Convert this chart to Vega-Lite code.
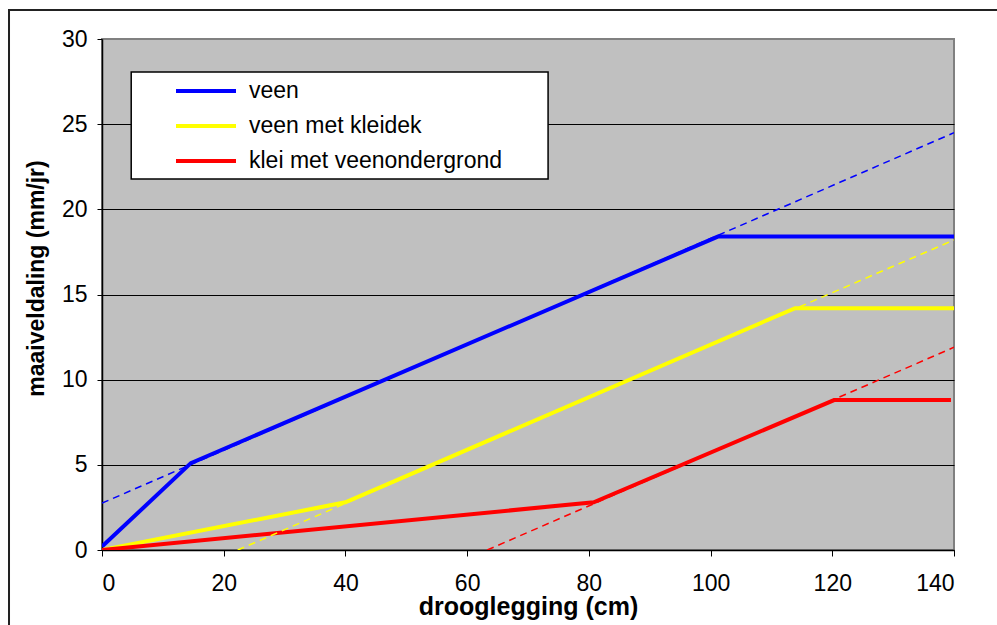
{
  "$schema": "https://vega.github.io/schema/vega-lite/v6.json",
  "width": 852,
  "height": 511,
  "autosize": {"type": "none"},
  "padding": {"left": 102, "top": 39, "right": 43, "bottom": 75},
  "background": "white",
  "config": {
    "font": "Liberation Sans",
    "view": {"fill": "#C0C0C0", "stroke": "#808080", "strokeWidth": 2},
    "axis": {
      "labelFont": "Liberation Sans",
      "titleFont": "Liberation Sans",
      "labelColor": "black",
      "titleColor": "black",
      "domainColor": "black",
      "tickColor": "black",
      "labelFontSize": 23,
      "titleFontWeight": "bold"
    },
    "legend": {
      "labelFont": "Liberation Sans",
      "labelFontSize": 23,
      "labelColor": "black",
      "labelLimit": 500
    }
  },
  "resolve": {"legend": {"color": "independent"}},
  "datasets": {
    "curves": [
      {"serie": "veen", "kind": "solid", "x": 0, "y": 0.2},
      {"serie": "veen", "kind": "solid", "x": 14.6, "y": 5.1},
      {"serie": "veen", "kind": "solid", "x": 101.2, "y": 18.4},
      {"serie": "veen", "kind": "solid", "x": 140, "y": 18.4},
      {"serie": "veen met kleidek", "kind": "solid", "x": 0, "y": 0},
      {"serie": "veen met kleidek", "kind": "solid", "x": 40, "y": 2.8},
      {"serie": "veen met kleidek", "kind": "solid", "x": 113.9, "y": 14.2},
      {"serie": "veen met kleidek", "kind": "solid", "x": 140, "y": 14.2},
      {"serie": "klei met veenondergrond", "kind": "solid", "x": 0, "y": 0},
      {"serie": "klei met veenondergrond", "kind": "solid", "x": 80.8, "y": 2.8},
      {"serie": "klei met veenondergrond", "kind": "solid", "x": 120.3, "y": 8.8},
      {"serie": "klei met veenondergrond", "kind": "solid", "x": 139.5, "y": 8.8},
      {"serie": "veen", "kind": "trend", "x": 0, "y": 2.75},
      {"serie": "veen", "kind": "trend", "x": 140, "y": 24.5},
      {"serie": "veen met kleidek", "kind": "trend", "x": 22.3, "y": 0},
      {"serie": "veen met kleidek", "kind": "trend", "x": 140, "y": 18.2},
      {"serie": "klei met veenondergrond", "kind": "trend", "x": 63.3, "y": 0},
      {"serie": "klei met veenondergrond", "kind": "trend", "x": 140, "y": 11.9}
    ]
  },
  "layer": [
    {
      "data": {"values": [{}]},
      "mark": {"type": "rect", "fill": "white", "stroke": "black", "strokeWidth": 1.5},
      "encoding": {
        "x": {"datum": 4.8, "type": "quantitative"},
        "x2": {"datum": 73.3},
        "y": {"datum": 28.06, "type": "quantitative"},
        "y2": {"datum": 21.78}
      }
    },
    {
      "data": {"name": "curves"},
      "transform": [{"filter": "datum.kind === 'solid'"}],
      "mark": {"type": "line", "strokeWidth": 4, "clip": true},
      "encoding": {
        "x": {
          "field": "x",
          "type": "quantitative",
          "scale": {"domain": [0, 140], "nice": false, "zero": false},
          "axis": {
            "title": "drooglegging (cm)",
            "values": [0, 20, 40, 60, 80, 100, 120, 140],
            "grid": false,
            "tickSize": 6,
            "labelPadding": 16,
            "titleFontSize": 25,
            "titlePadding": -1,
            "domainWidth": 1.5
          }
        },
        "y": {
          "field": "y",
          "type": "quantitative",
          "scale": {"domain": [0, 30], "nice": false, "zero": false},
          "axis": {
            "title": "maaiveldaling (mm/jr)",
            "values": [0, 5, 10, 15, 20, 25, 30],
            "grid": true,
            "gridColor": {"condition": {"test": "datum.value === 30", "value": "#808080"}, "value": "black"},
            "gridWidth": 1,
            "tickSize": 5,
            "labelPadding": 10,
            "titleFontSize": 23,
            "titlePadding": 13,
            "titleY": 239,
            "domainWidth": 1.5
          }
        },
        "color": {
          "field": "serie",
          "type": "nominal",
          "scale": {
            "domain": ["veen", "veen met kleidek", "klei met veenondergrond"],
            "range": ["#0000FF", "#FFFF00", "#FF0000"]
          },
          "legend": {
            "title": null,
            "orient": "none",
            "legendX": 92,
            "legendY": 40,
            "padding": 0,
            "symbolType": "M-3,0H3",
            "symbolSize": 400,
            "symbolStrokeWidth": 4,
            "symbolFillColor": "transparent",
            "symbolOffset": 0,
            "labelOffset": 31,
            "rowPadding": 11
          }
        }
      }
    },
    {
      "data": {"name": "curves"},
      "transform": [{"filter": "datum.kind === 'trend'"}],
      "mark": {"type": "line", "strokeWidth": 1.5, "strokeDash": [7, 5], "clip": true},
      "encoding": {
        "x": {"field": "x", "type": "quantitative"},
        "y": {"field": "y", "type": "quantitative"},
        "detail": {"field": "serie"},
        "color": {"field": "serie", "type": "nominal", "legend": null}
      }
    },
    {
      "data": {"values": [{}]},
      "mark": {"type": "rect", "fill": null, "fillOpacity": 0, "stroke": "#222222", "strokeWidth": 2, "clip": false},
      "encoding": {
        "x": {"datum": -15.28, "type": "quantitative"},
        "x2": {"datum": 170},
        "y": {"datum": 31.7, "type": "quantitative"},
        "y2": {"datum": -10}
      }
    }
  ]
}
